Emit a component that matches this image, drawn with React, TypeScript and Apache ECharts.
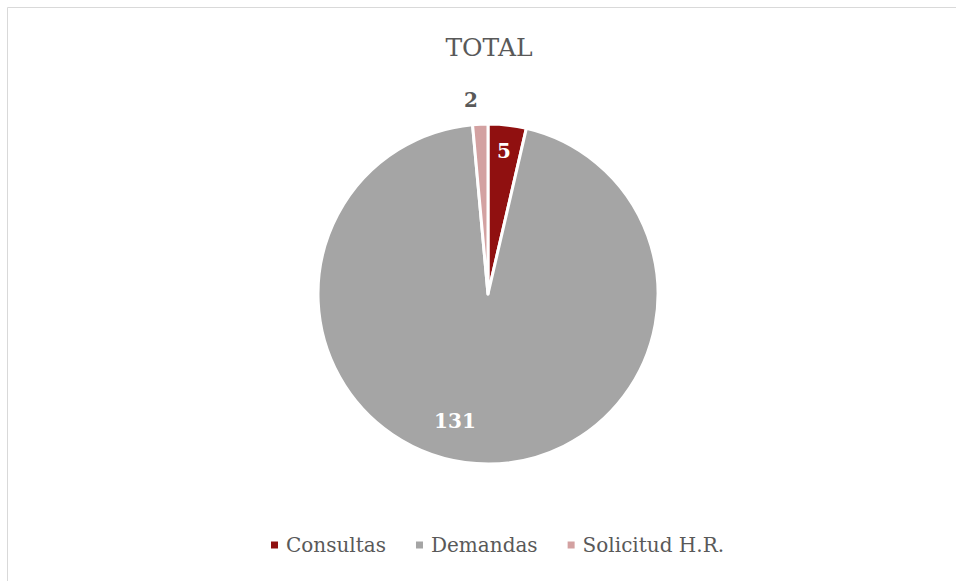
import React, { useEffect, useRef } from "react";
import * as echarts from "echarts";

const categories = ["Consultas", "Demandas", "Solicitud H.R."];
const values = [5, 131, 2];
const colors = ["#901010", "#A5A5A5", "#D3A1A1"];
const titleText = "TOTAL";

export default function App() {
  const ref = useRef<HTMLDivElement>(null);
  useEffect(() => {
    if (!ref.current) return;
    const chart = echarts.init(ref.current, null, { renderer: "svg" });
    const font = "'DejaVu Serif', 'Liberation Serif', serif";
    // label shifts relative to the default inside position (style only)
    const shifts = [
      [6, -56],
      [-27, 39],
      [-13, -106],
    ];
    chart.setOption({
      animation: false,
      backgroundColor: "#ffffff",
      title: {
        text: titleText,
        left: 484,
        textAlign: "center",
        top: 30,
        textStyle: { fontFamily: font, fontSize: 25, fontWeight: "normal", color: "#595959" },
      },
      legend: {
        data: categories,
        left: 264,
        top: 530,
        icon: "rect",
        itemWidth: 9,
        itemHeight: 9,
        itemGap: 28,
        textStyle: { fontFamily: font, fontSize: 20, color: "#595959", padding: [0, 0, 0, 2] },
      },
      graphic: [
        {
          type: "rect",
          shape: { x: 7.5, y: 7.5, width: 1000, height: 1000 },
          style: { fill: "none", stroke: "#D9D9D9", lineWidth: 1 },
          silent: true,
        },
      ],
      series: [
        {
          type: "pie",
          center: [488, 294],
          radius: 170,
          startAngle: 90,
          clockwise: true,
          avoidLabelOverlap: false,
          itemStyle: { borderColor: "#ffffff", borderWidth: 3 },
          label: {
            show: true,
            position: "inside",
            formatter: "{c}",
            fontFamily: font,
            fontSize: 20,
            fontWeight: "bold",
            color: "#ffffff",
          },
          labelLine: { show: false },
          labelLayout: (p: any) => ({ dx: shifts[p.dataIndex][0], dy: shifts[p.dataIndex][1] }),
          emphasis: { disabled: true },
          data: categories.map((name, i) => ({
            name,
            value: values[i],
            itemStyle: { color: colors[i] },
            label: i === 2 ? { color: "#595959" } : undefined,
          })),
        },
      ],
    });
    return () => chart.dispose();
  }, []);
  return (
    <div
      ref={ref}
      style={{ position: "fixed", left: 0, top: 0, width: 956, height: 581, background: "#fff" }}
    />
  );
}
